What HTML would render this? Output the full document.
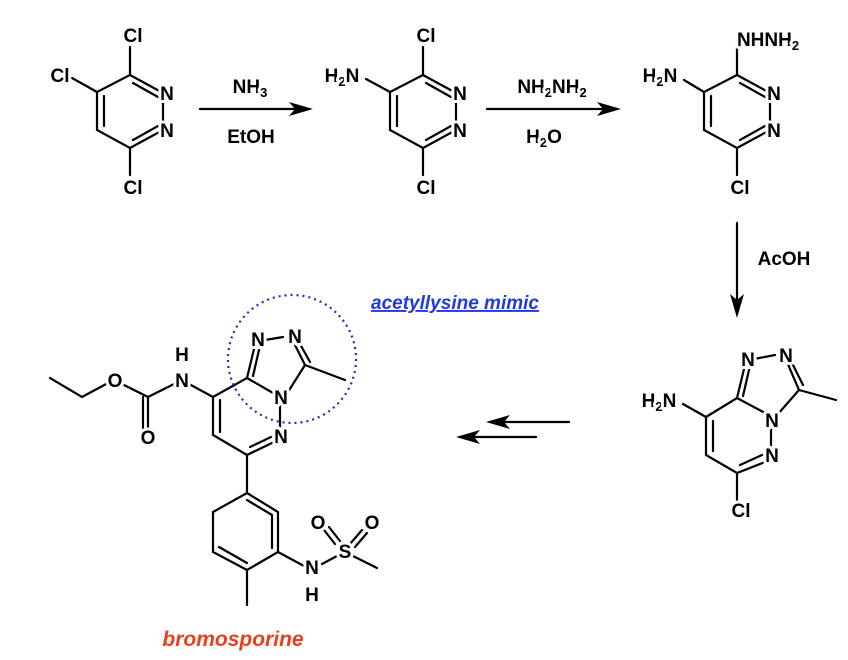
<!DOCTYPE html>
<html><head><meta charset="utf-8"><style>
html,body{margin:0;padding:0;background:#fff;}
svg{display:block;}
text{font-family:"Liberation Sans",Arial,sans-serif;font-weight:bold;}
.l text{font-size:19px;fill:#000;text-anchor:middle;stroke:#fff;stroke-width:6px;paint-order:stroke;stroke-linejoin:round;}
</style></head><body>
<svg width="848" height="660" viewBox="0 0 848 660" xmlns="http://www.w3.org/2000/svg">
<g stroke="#000" stroke-width="2.2" fill="none" stroke-linecap="round">
<path d="M130,75 L163,93 M163,130 L130,148 L97,130 L97,92 L130,75 M130,75 L130,47 M97,92 L72,78 M130,148 L130,175 M163,100 L163,123"/>
<path d="M133,83 L158,97 M133,140 L158,126 M104,96 L104,126"/>
<path d="M200,109 L300,109"/>
<path d="M423,75 L456,93 M456,130 L423,148 L390,130 L390,92 L423,75 M423,75 L423,47 M390,92 L366,79 M423,148 L423,175 M456,100 L456,123"/>
<path d="M426,83 L451,97 M426,140 L451,126 M397,96 L397,126"/>
<path d="M487,109 L608,109"/>
<path d="M737,75 L770,93 M770,130 L737,148 L704,130 L704,92 L737,75 M737,75 L737,47 M704,92 L684,80 M737,148 L737,175 M770,100 L770,123"/>
<path d="M740,83 L765,97 M740,140 L765,126 M711,96 L711,126"/>
<path d="M737,223 L737,305"/>
<path d="M706,417 L737,398 L767,414 M771,428 L771,446 M765,462 L737,473 L706,455 L706,417 M706,417 L683,404 M737,473 L737,500"/>
<path d="M713,421 L713,451 M740,465 L762,455"/>
<path d="M737,398 L744,369 M743,396 L749,370 M754,359 L775,355 M787,362 L799,390 M793,365 L803,385 M799,390 L778,414 M799,390 L836,400"/>
<path d="M569,422 L495,422 M536,437 L465,437"/>
<path d="M50,378 L82,397 L108,383 M122,384 L148,397 L174,384 M148,397 L148,428 M143,397 L143,428 M189,384 L213,397 L247,378 L273,393 M280,406 L280,428 M274,442 L247,455 L213,435 L213,397 M220,400 L220,432 M250,447 L271,437"/>
<path d="M247,378 L254,349 M253,376 L259,350 M265,340 L283,337 M295,345 L305,365 M300,344 L310,362 M305,365 L288,392 M305,365 L345,380"/>
<path d="M247,455 L247,493 L278,512 L278,552 L247,570 L213,552 L213,512 L247,493 M247,500 L272,515 M272,516 L272,548 M247,563 L219,547 M247,570 L247,605 M278,552 L304,566 M322,564 L337,556 M353,556 L377,568"/>
<path d="M335,544 L324,530 M340,541 L329,527 M350,544 L362,530 M355,547 L367,533"/>
</g>
<g fill="#000">
<polygon points="313,109 289,102 295,109 289,116"/>
<polygon points="621,109 597,102 603,109 597,116"/>
<polygon points="737,318 730,294 737,300 744,294"/>
<polygon points="486,422 510,415 504,422 510,429"/>
<polygon points="456,437 480,430 474,437 480,444"/>
</g>
<circle cx="292" cy="359" r="64" fill="none" stroke="#2a2ab0" stroke-width="2.2" stroke-dasharray="2,4"/>
<g class="l">
<text x="133" y="42">Cl</text>
<text x="60" y="82">Cl</text>
<text x="167" y="100">N</text>
<text x="167" y="137">N</text>
<text x="133" y="194">Cl</text>
<text x="250" y="93">NH<tspan font-size="13" dy="4">3</tspan></text>
<text x="251" y="143">EtOH</text>
<text x="426" y="42">Cl</text>
<text x="342" y="82">H<tspan font-size="13" dy="4">2</tspan><tspan dy="-4">N</tspan></text>
<text x="460" y="100">N</text>
<text x="460" y="137">N</text>
<text x="426" y="194">Cl</text>
<text x="552" y="93">NH<tspan font-size="13" dy="4">2</tspan><tspan dy="-4">NH</tspan><tspan font-size="13" dy="4">2</tspan></text>
<text x="544" y="143">H<tspan font-size="13" dy="4">2</tspan><tspan dy="-4">O</tspan></text>
<text x="768" y="46">NHNH<tspan font-size="13" dy="4">2</tspan></text>
<text x="660" y="82">H<tspan font-size="13" dy="4">2</tspan><tspan dy="-4">N</tspan></text>
<text x="774" y="100">N</text>
<text x="774" y="137">N</text>
<text x="740" y="194">Cl</text>
<text x="784" y="265">AcOH</text>
<text x="748" y="366">N</text>
<text x="786" y="362">N</text>
<text x="772" y="427">N</text>
<text x="772" y="462">N</text>
<text x="659" y="407">H<tspan font-size="13" dy="4">2</tspan><tspan dy="-4">N</tspan></text>
<text x="741" y="517">Cl</text>
<text x="115" y="387">O</text>
<text x="148" y="444">O</text>
<text x="182" y="387">N</text>
<text x="182" y="361">H</text>
<text x="258" y="346">N</text>
<text x="295" y="343">N</text>
<text x="281" y="404">N</text>
<text x="281" y="443">N</text>
<text x="312" y="574">N</text>
<text x="312" y="601">H</text>
<text x="345" y="558">S</text>
<text x="318" y="529">O</text>
<text x="372" y="529">O</text>
</g>
<text x="455" y="309" font-size="19" font-style="italic" fill="#1f3be0" text-anchor="middle" text-decoration="underline">acetyllysine mimic</text>
<text x="233" y="646" font-size="21" font-style="italic" fill="#e8401c" text-anchor="middle">bromosporine</text>
</svg>
</body></html>
